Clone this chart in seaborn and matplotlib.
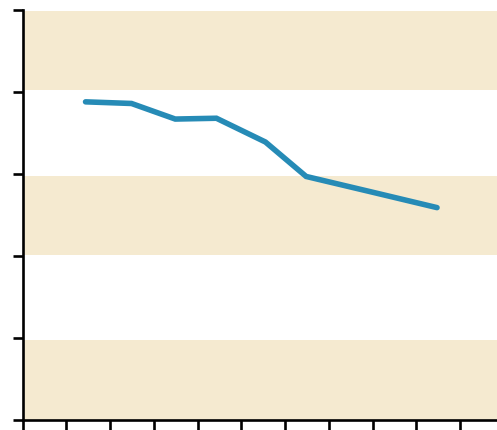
import numpy as np
import pandas as pd
import seaborn as sns
import matplotlib.pyplot as plt

# dane
x_vals = [1.44, 2.49, 3.49, 4.43, 5.55, 6.48, 7.98, 9.47]
y_vals = [3.88, 3.86, 3.67, 3.68, 3.39, 2.97, 2.78, 2.59]

# pasy tla (dolna i gorna granica w jednostkach osi y)
band_lo = [0.0, 2.01, 4.02]
band_hi = [0.976, 2.976, 4.99]

df = pd.DataFrame({'x': x_vals, 'y': y_vals})

sns.set_style("ticks")
fig = plt.figure(figsize=(4.97, 4.30), dpi=100)
ax = fig.add_axes([22.5 / 497, 10 / 430, 1 - 22.5 / 497, 410 / 430])

for lo, hi in zip(band_lo, band_hi):
    ax.axhspan(lo, hi, color='#f5ead0', lw=0, zorder=0)

sns.lineplot(data=df, x='x', y='y', ax=ax, color='#268bb6', lw=4.0,
             solid_capstyle='round', solid_joinstyle='miter', zorder=3)

ax.set_xlim(0, 10.84)
ax.set_ylim(0, 5)
ax.set_xticks(np.arange(0, 11))
ax.set_yticks(np.arange(0, 6))
ax.set_xticklabels([])
ax.set_yticklabels([])
ax.set_xlabel('')
ax.set_ylabel('')
ax.tick_params(length=7.5, width=1.9, color='black', direction='out')
for s in ['top', 'right']:
    ax.spines[s].set_visible(False)
for s in ['left', 'bottom']:
    ax.spines[s].set_linewidth(1.9)
    ax.spines[s].set_color('black')
    ax.spines[s].set_zorder(5)

fig.savefig('out.png', dpi=100)
